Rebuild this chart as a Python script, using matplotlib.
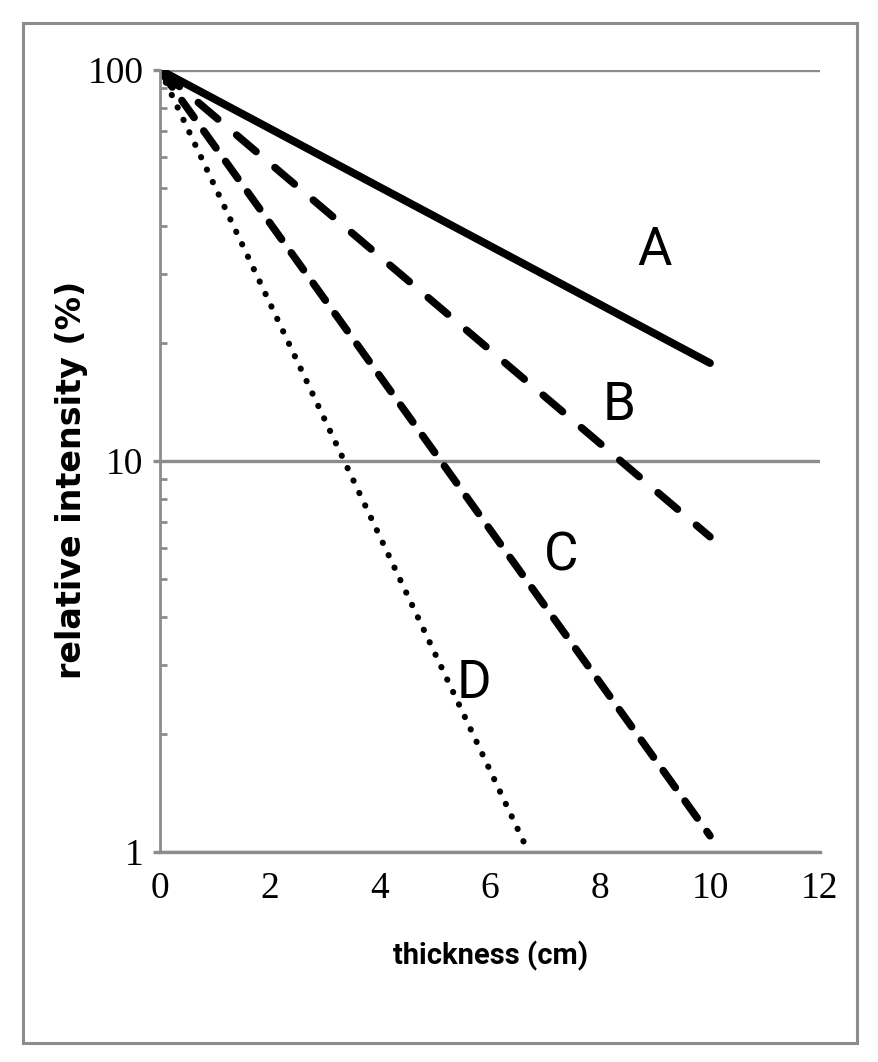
import matplotlib.pyplot as plt
from matplotlib import font_manager
from matplotlib.patches import Rectangle

# thickness (cm) and relative intensity (%) for each curve
x_a = [0, 10]
y_a = [100, 17.8]
x_b = [0, 10]
y_b = [100, 6.4]
x_c = [0, 10]
y_c = [100, 1.1]
x_d = [0, 6.7]
y_d = [100, 1.0]

labels = ["A", "B", "C", "D"]
label_x = [9.0, 8.35, 7.3, 5.7]
label_y = [34.5, 13.9, 5.7, 2.7]

x_ticks = [0, 2, 4, 6, 8, 10, 12]
y_ticks = [1, 10, 100]

grey = "#8c8c8c"

# narrow fonts look closer to the original, use them if they are there
names = {f.name for f in font_manager.fontManager.ttflist}
narrow_sans = "Liberation Sans Narrow" if "Liberation Sans Narrow" in names else "Roboto"
narrow_serif = "DejaVu Serif Condensed" if "DejaVu Serif Condensed" in names else "Liberation Serif"

fig = plt.figure(figsize=(8.79, 10.62), dpi=100)
ax = fig.add_axes([160 / 879, 1 - 852 / 1062, 660 / 879, 782 / 1062])

# outer frame round the whole picture
fig.patches.append(Rectangle((23 / 879, 1 - 1043 / 1062), 834 / 879, 1020 / 1062,
                             transform=fig.transFigure, fill=False,
                             edgecolor=grey, linewidth=2.2))

ax.plot(x_a, y_a, color="black", linewidth=5.6, solid_capstyle="round")
ax.plot(x_b, y_b, color="black", linewidth=5.4, dashes=(3.4, 3.3), dash_capstyle="round")
ax.plot(x_c, y_c, color="black", linewidth=5.4, dashes=(2.8, 2.2), dash_capstyle="round")
ax.plot(x_d, y_d, color="black", linewidth=4.4, dashes=(0.05, 2.2), dash_capstyle="round")

for lab, lx, ly in zip(labels, label_x, label_y):
    ax.text(lx, ly, lab, fontsize=38, family=narrow_sans, ha="center", va="center")

ax.set_yscale("log")
ax.set_xlim(0, 12)
ax.set_ylim(1, 100)
ax.set_xticks(x_ticks)
ax.set_xticklabels([str(v) for v in x_ticks], family=narrow_serif, fontsize=27)
ax.set_yticks(y_ticks)
ax.set_yticklabels([str(v) for v in y_ticks], family=narrow_serif, fontsize=27)

ax.yaxis.grid(True, which="major", color=grey, linewidth=2.4)
ax.set_axisbelow(True)
ax.tick_params(axis="x", length=0, pad=14)
ax.tick_params(axis="y", which="major", length=5, width=2.4, color=grey, direction="out", pad=7)
ax.tick_params(axis="y", which="minor", length=5, width=2, color=grey, direction="in", labelleft=False)

for side in ["top", "right"]:
    ax.spines[side].set_visible(False)
ax.spines["left"].set_color(grey)
ax.spines["left"].set_linewidth(2)
ax.spines["bottom"].set_color(grey)
ax.spines["bottom"].set_linewidth(2.4)

fig.text(491 / 879, 1 - 956 / 1062, "thickness (cm)", fontsize=21, family=narrow_sans,
         fontweight="bold", ha="center", va="center")
fig.text(72 / 879, 1 - 480 / 1062, "relative intensity (%)", fontsize=24,
         family="DejaVu Sans", fontweight="bold", rotation=90, ha="center", va="center")

fig.savefig("out.png", dpi=100)
